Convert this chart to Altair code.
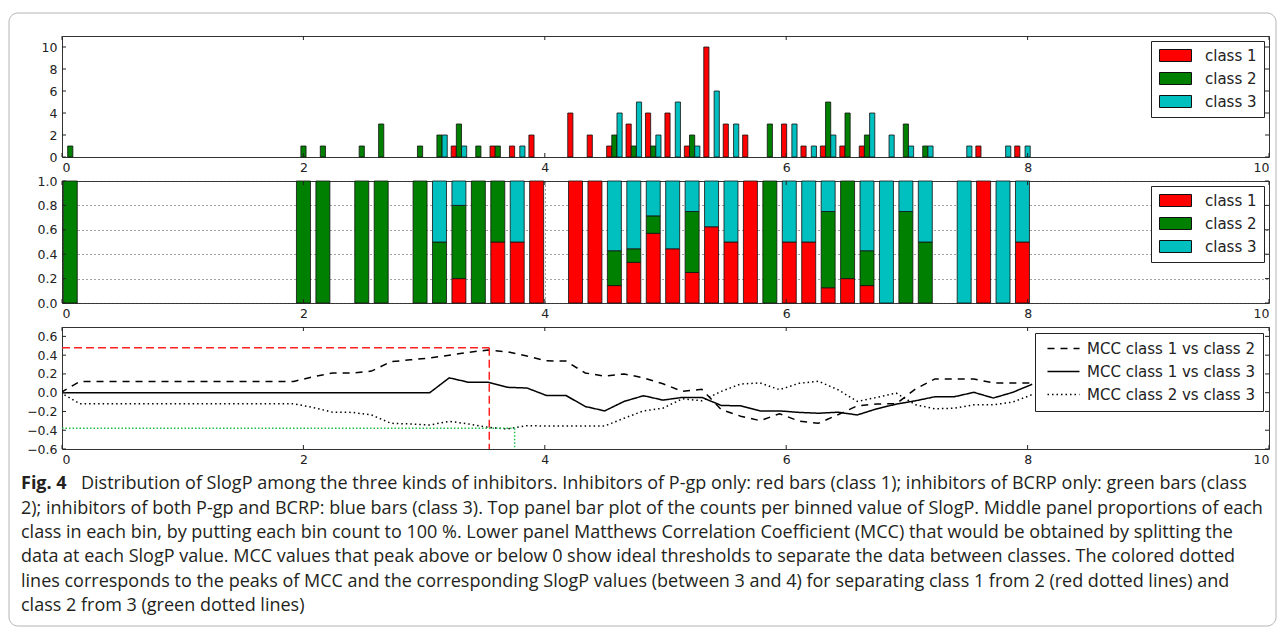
import altair as alt
import pandas as pd

# ---------------- data ----------------
BIN_EDGES = [-0.012, 0.149, 0.310, 0.471, 0.632, 0.793, 0.954, 1.115, 1.276, 1.437,
             1.598, 1.759, 1.920, 2.081, 2.242, 2.403, 2.564, 2.725, 2.886, 3.047,
             3.208, 3.369, 3.530, 3.691, 3.852, 4.013, 4.174, 4.335, 4.496, 4.657,
             4.818, 4.979, 5.140, 5.301, 5.462, 5.623, 5.784, 5.945, 6.106, 6.267,
             6.428, 6.589, 6.750, 6.911, 7.072, 7.233, 7.394, 7.555, 7.716, 7.877,
             8.038]

CLASS1_COUNTS = [0, 0, 0, 0, 0, 0, 0, 0, 0, 0,
                 0, 0, 0, 0, 0, 0, 0, 0, 0, 0,
                 1, 0, 1, 1, 2, 0, 4, 2, 1, 3,
                 4, 4, 1, 10, 3, 2, 0, 3, 1, 1,
                 1, 1, 0, 0, 0, 0, 0, 1, 0, 1]
CLASS2_COUNTS = [1, 0, 0, 0, 0, 0, 0, 0, 0, 0,
                 0, 0, 1, 1, 0, 1, 3, 0, 1, 2,
                 3, 1, 1, 0, 0, 0, 0, 0, 2, 1,
                 1, 0, 2, 0, 0, 0, 3, 0, 0, 5,
                 4, 2, 0, 3, 1, 0, 0, 0, 0, 0]
CLASS3_COUNTS = [0, 0, 0, 0, 0, 0, 0, 0, 0, 0,
                 0, 0, 0, 0, 0, 0, 0, 0, 0, 2,
                 1, 0, 0, 1, 0, 0, 0, 0, 4, 5,
                 2, 5, 1, 6, 3, 0, 0, 3, 1, 2,
                 0, 4, 2, 1, 1, 0, 1, 0, 1, 1]
CLASS_NAMES = ["class 1", "class 2", "class 3"]
CLASS_COLORS = ["#ff0000", "#008000", "#00bfbf"]

MCC_1_VS_2 = [0.0, 0.12, 0.12, 0.12, 0.12, 0.12, 0.12, 0.12, 0.12, 0.12,
              0.12, 0.12, 0.12, 0.17, 0.21, 0.21, 0.23, 0.33, 0.35, 0.37,
              0.40, 0.43, 0.455, 0.435, 0.39, 0.34, 0.337, 0.21, 0.176, 0.20,
              0.158, 0.095, 0.014, 0.036, -0.18, -0.25, -0.298, -0.224, -0.303, -0.326,
              -0.235, -0.14, -0.12, -0.118, 0.04, 0.147, 0.147, 0.147, 0.104, 0.104,
              0.104]
MCC_1_VS_3 = [0.0, 0.0, 0.0, 0.0, 0.0, 0.0, 0.0, 0.0, 0.0, 0.0,
              0.0, 0.0, 0.0, 0.0, 0.0, 0.0, 0.0, 0.0, 0.0, 0.0,
              0.158, 0.111, 0.111, 0.057, 0.05, -0.029, -0.029, -0.147, -0.194, -0.093,
              -0.032, -0.079, -0.05, -0.05, -0.136, -0.14, -0.194, -0.194, -0.21, -0.219,
              -0.208, -0.237, -0.172, -0.122, -0.086, -0.043, -0.043, 0.004, -0.057, 0.004,
              0.09]
MCC_2_VS_3 = [0.0, -0.118, -0.118, -0.118, -0.118, -0.118, -0.118, -0.118, -0.118, -0.118,
              -0.118, -0.118, -0.118, -0.158, -0.208, -0.21, -0.237, -0.326, -0.333, -0.344,
              -0.305, -0.333, -0.369, -0.387, -0.351, -0.355, -0.355, -0.355, -0.355, -0.272,
              -0.194, -0.165, -0.065, -0.086, 0.014, 0.093, 0.104, 0.032, 0.1, 0.122,
              0.032, -0.093, -0.05, -0.004, -0.129, -0.172, -0.165, -0.129, -0.129, -0.1,
              -0.02]
SERIES_NAMES = ["MCC class 1 vs class 2", "MCC class 1 vs class 3", "MCC class 2 vs class 3"]

PEAK_1_VS_2 = {"x": 3.54, "y": 0.48}
PEAK_2_VS_3 = {"x": 3.75, "y": -0.38}
Y_BOTTOM_LIMIT = -0.6

X_TICKS = [0, 2, 4, 6, 8, 10]
Y_TICKS_TOP = [0, 2, 4, 6, 8, 10]
Y_TICKS_MID = [0.0, 0.2, 0.4, 0.6, 0.8, 1.0]
Y_TICKS_BOT = [-0.6, -0.4, -0.2, 0.0, 0.2, 0.4, 0.6]

CAPTION_BOLD = "Fig. 4"
CAPTION_LINES = [
    "Distribution of SlogP among the three kinds of inhibitors. Inhibitors of P-gp only: red bars (class 1); inhibitors of BCRP only: green bars (class",
    "2); inhibitors of both P-gp and BCRP: blue bars (class 3). Top panel bar plot of the counts per binned value of SlogP. Middle panel proportions of each",
    "class in each bin, by putting each bin count to 100 %. Lower panel Matthews Correlation Coefficient (MCC) that would be obtained by splitting the",
    "data at each SlogP value. MCC values that peak above or below 0 show ideal thresholds to separate the data between classes. The colored dotted",
    "lines corresponds to the peaks of MCC and the corresponding SlogP values (between 3 and 4) for separating class 1 from 2 (red dotted lines) and",
    "class 2 from 3 (green dotted lines)",
]

# ---------------- tables ----------------
rows = []
all_counts = [CLASS1_COUNTS, CLASS2_COUNTS, CLASS3_COUNTS]
for k in range(len(BIN_EDGES) - 1):
    left, right = BIN_EDGES[k], BIN_EDGES[k + 1]
    w = right - left
    total = sum(c[k] for c in all_counts)
    cum = 0.0
    for ci, counts in enumerate(all_counts):
        c = counts[k]
        if c > 0:
            g0 = left + 0.1 * w + ci * 0.8 * w / 3
            p0 = cum / total
            cum += c
            rows.append({"ci": ci, "cls": CLASS_NAMES[ci], "count": c, "zero": 0,
                         "g0": g0, "g1": g0 + 0.8 * w / 3,
                         "m0": left + 0.14 * w, "m1": right - 0.14 * w,
                         "p0": p0, "p1": cum / total})
bars = pd.DataFrame(rows)

mcc_rows = []
for name, vals in zip(SERIES_NAMES, [MCC_1_VS_2, MCC_1_VS_3, MCC_2_VS_3]):
    for e, v in zip(BIN_EDGES, vals):
        mcc_rows.append({"slogp": e, "mcc": v, "series": name})
mcc = pd.DataFrame(mcc_rows)

red_ref = pd.DataFrame([
    {"x": 0.0, "x2": PEAK_1_VS_2["x"], "y": PEAK_1_VS_2["y"], "y2": PEAK_1_VS_2["y"]},
    {"x": PEAK_1_VS_2["x"], "x2": PEAK_1_VS_2["x"], "y": PEAK_1_VS_2["y"], "y2": Y_BOTTOM_LIMIT},
])
green_ref = pd.DataFrame([
    {"x": 0.0, "x2": PEAK_2_VS_3["x"], "y": PEAK_2_VS_3["y"], "y2": PEAK_2_VS_3["y"]},
    {"x": PEAK_2_VS_3["x"], "x2": PEAK_2_VS_3["x"], "y": PEAK_2_VS_3["y"], "y2": Y_BOTTOM_LIMIT},
])

caption = pd.DataFrame({"line": list(range(len(CAPTION_LINES))), "text": CAPTION_LINES})
caption_bold = pd.DataFrame({"line": [0], "text": [CAPTION_BOLD]})

# ---------------- styling helpers ----------------
FONT = "DejaVu Sans"
W = 1207
H_TOP, H_MID, H_BOT = 121, 122, 122


def xs():
    return alt.Scale(domain=[0, 10], nice=False, zero=False)


def x_axis(grid=False):
    return alt.Axis(values=X_TICKS, format="d", ticks=False, domain=False, grid=grid,
                    gridDash=[1, 3], gridColor="#444", gridWidth=1,
                    labelFont=FONT, labelFontSize=12.5, labelColor="#222",
                    labelPadding=4, labelOverlap=False, title=None)


def y_axis(vals, fmt, grid=False):
    return alt.Axis(values=vals, format=fmt, ticks=False, domain=False, grid=grid,
                    gridDash=[1, 3], gridColor="#444", gridWidth=1,
                    labelFont=FONT, labelFontSize=12.5, labelColor="#222",
                    labelPadding=5, labelOverlap=False, title=None)


def inner_ticks(h, y_vals, y_scale_fn, y_fmt, grid=False):
    """Short inward tick marks on all four sides, matplotlib-style."""
    xt = alt.Chart(pd.DataFrame({"t": X_TICKS})).mark_rule(color="#222", strokeWidth=1)
    yt = alt.Chart(pd.DataFrame({"t": y_vals})).mark_rule(color="#222", strokeWidth=1)
    return [
        xt.encode(x=alt.X("t:Q", scale=xs(), axis=x_axis(grid)), y=alt.value(0), y2=alt.value(4)),
        xt.encode(x=alt.X("t:Q", scale=xs(), axis=x_axis(grid)), y=alt.value(h - 4), y2=alt.value(h)),
        yt.encode(y=alt.Y("t:Q", scale=y_scale_fn(), axis=y_axis(y_vals, y_fmt, grid)),
                  x=alt.value(0), x2=alt.value(4)),
        yt.encode(y=alt.Y("t:Q", scale=y_scale_fn(), axis=y_axis(y_vals, y_fmt, grid)),
                  x=alt.value(W - 4), x2=alt.value(W)),
    ]


# wide flat swatch: 12px tall, 32px wide, starting at the symbol slot's left edge
RECT_SYMBOL = "M-1,-1L4.333,-1L4.333,1L-1,1Z"
# short horizontal line 32px long
LINE_SYMBOL = "M-1,0L9.67,0"


def class_legend():
    return alt.Legend(title=None, orient="top-right", offset=5, fillColor="white",
                      strokeColor="#222", padding=7, cornerRadius=0,
                      labelFont=FONT, labelFontSize=15, labelColor="#222",
                      symbolType=RECT_SYMBOL, symbolSize=144, symbolStrokeColor="#111",
                      symbolStrokeWidth=1, symbolOpacity=1, rowPadding=6, labelOffset=32)


def color_scale():
    return alt.Scale(domain=CLASS_NAMES, range=CLASS_COLORS)


def ys_top():
    return alt.Scale(domain=[0, 11], nice=False)


def ys_mid():
    return alt.Scale(domain=[0, 1], nice=False)


def ys_bot():
    return alt.Scale(domain=[-0.6, 0.7], nice=False, zero=False)


# ---------------- top panel: counts ----------------
top_bars = alt.Chart(bars).mark_rect(stroke="#111", strokeWidth=0.8).encode(
    x=alt.X("g0:Q", scale=xs(), axis=x_axis()),
    x2="g1:Q",
    y=alt.Y("count:Q", scale=ys_top(), axis=y_axis(Y_TICKS_TOP, "d")),
    y2="zero:Q",
    color=alt.Color("cls:N", scale=color_scale(), legend=class_legend()),
)
border = alt.Chart(pd.DataFrame({"b": [0]})).mark_rect(
    fill="transparent", stroke="#b4b4b4", strokeWidth=1, cornerRadius=9
).encode(x=alt.value(-53), x2=alt.value(1214), y=alt.value(-23), y2=alt.value(590))
top = alt.layer(border, top_bars, *inner_ticks(H_TOP, Y_TICKS_TOP, ys_top, "d")).properties(
    width=W, height=H_TOP)

# ---------------- middle panel: proportions ----------------
mid_bars = alt.Chart(bars).mark_rect(stroke="#111", strokeWidth=0.8).encode(
    x=alt.X("m0:Q", scale=xs(), axis=x_axis(grid=True)),
    x2="m1:Q",
    y=alt.Y("p0:Q", scale=ys_mid(), axis=y_axis(Y_TICKS_MID, ".1f", grid=True)),
    y2="p1:Q",
    color=alt.Color("cls:N", scale=color_scale(), legend=class_legend()),
)
mid = alt.layer(mid_bars, *inner_ticks(H_MID, Y_TICKS_MID, ys_mid, ".1f", grid=True)).properties(
    width=W, height=H_MID)

# ---------------- bottom panel: MCC ----------------
lines = alt.Chart(mcc).mark_line(color="black", strokeWidth=1.5, clip=True).encode(
    x=alt.X("slogp:Q", scale=xs(), axis=x_axis()),
    y=alt.Y("mcc:Q", scale=ys_bot(), axis=y_axis(Y_TICKS_BOT, ".1f")),
    strokeDash=alt.StrokeDash(
        "series:N",
        scale=alt.Scale(domain=SERIES_NAMES, range=[[7, 6], [1, 0], [1.5, 3]]),
        legend=alt.Legend(title=None, orient="top-right", offset=6, fillColor="white",
                          strokeColor="#222", padding=8, cornerRadius=0,
                          labelFont=FONT, labelFontSize=15, labelColor="#222", labelLimit=400,
                          symbolType=LINE_SYMBOL, symbolSize=36, symbolStrokeColor="black",
                          symbolStrokeWidth=1.5, rowPadding=7, labelOffset=29),
    ),
)
red_rules = alt.Chart(red_ref).mark_rule(color="#ff2020", strokeWidth=1.5, strokeDash=[8, 4]).encode(
    x=alt.X("x:Q", scale=xs(), axis=x_axis()), x2="x2:Q",
    y=alt.Y("y:Q", scale=ys_bot(), axis=y_axis(Y_TICKS_BOT, ".1f")), y2="y2:Q",
)
green_rules = alt.Chart(green_ref).mark_rule(color="#1fbf4a", strokeWidth=1.5, strokeDash=[1.5, 2]).encode(
    x=alt.X("x:Q", scale=xs(), axis=x_axis()), x2="x2:Q",
    y=alt.Y("y:Q", scale=ys_bot(), axis=y_axis(Y_TICKS_BOT, ".1f")), y2="y2:Q",
)
bot = alt.layer(lines, red_rules, green_rules, *inner_ticks(H_BOT, Y_TICKS_BOT, ys_bot, ".1f")).properties(
    width=W, height=H_BOT)

# ---------------- caption ----------------
CAP_FONT = "Open Sans"
CAP_SIZE = 18
cap_y = alt.Y("line:O", axis=None)
cap_first = alt.Chart(caption).transform_filter("datum.line == 0").mark_text(
    align="left", baseline="middle", font=CAP_FONT, fontSize=CAP_SIZE, color="#231f20", dy=-1
).encode(x=alt.value(19), y=cap_y, text="text:N")
cap_rest = alt.Chart(caption).transform_filter("datum.line > 0").mark_text(
    align="left", baseline="middle", font=CAP_FONT, fontSize=CAP_SIZE, color="#231f20", dy=-1
).encode(x=alt.value(-41), y=cap_y, text="text:N")
cap_bold = alt.Chart(caption_bold).mark_text(
    align="left", baseline="middle", font=CAP_FONT, fontSize=CAP_SIZE, fontWeight="bold",
    color="#231f20", dy=-1
).encode(x=alt.value(-41), y=cap_y, text="text:N")
cap = alt.layer(cap_first, cap_rest, cap_bold).properties(
    width=W, height=146, view=alt.ViewBackground(strokeOpacity=0))

chart = alt.vconcat(top, mid, bot, cap, spacing=24, bounds="flush").resolve_scale(
    x="independent", y="independent", color="independent", strokeDash="independent"
).resolve_legend(color="independent").properties(
    padding={"left": 0, "top": 4, "right": 0, "bottom": 0}
).configure_view(stroke="#333", strokeWidth=1)

chart.save("out.html", embed_options={"renderer": "svg", "actions": False})
